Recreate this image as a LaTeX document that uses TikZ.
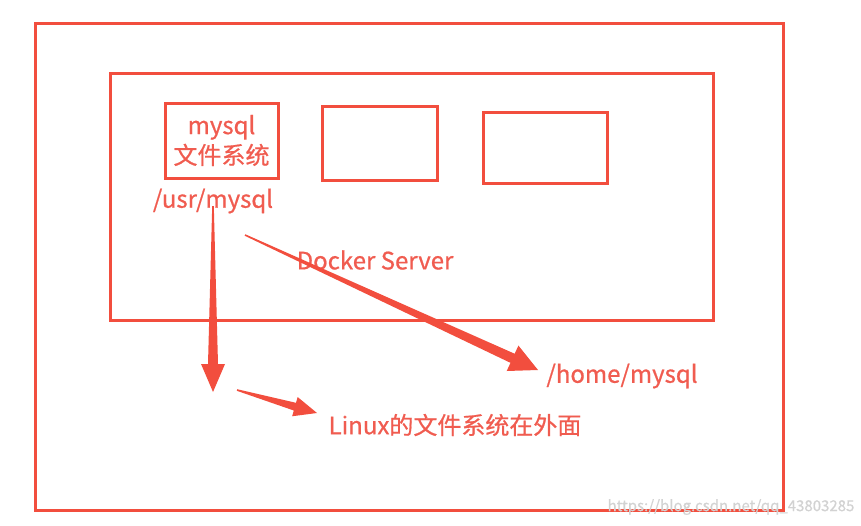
\documentclass[tikz,border=0pt]{standalone}
\usepackage{fontspec}
\setmainfont{Noto Sans CJK SC}[UprightFeatures={FakeBold=0.7}]
\usetikzlibrary{calc}
\definecolor{pen}{RGB}{242,78,62}
\definecolor{ink}{RGB}{240,92,80}

% tapered arrow: from, to, head length, head half width, shaft half width
\newcommand{\fatarrow}[5]{%
  \coordinate (hb) at ($(#2)!#3!(#1)$);
  \fill[pen] ($(#1)!0.8pt!90:(#2)$) -- ($(hb)!#5!90:(#2)$) -- ($(hb)!#4!90:(#2)$)
    -- (#2) -- ($(hb)!#4!-90:(#2)$) -- ($(hb)!#5!-90:(#2)$) -- ($(#1)!0.8pt!-90:(#2)$) -- cycle;
}

\begin{document}
\begin{tikzpicture}[x=1pt, y=-1pt, every node/.style={font=\fontsize{24}{30}\selectfont}]
\tikzset{
  frame/.style={draw=pen, line width=3pt},
  lab/.style={text=ink, inner sep=2pt},
  wmark/.style={text=gray!35, font=\fontsize{15}{16}\selectfont}
}
\useasboundingbox (0,0) rectangle (861,525);

% --- frames ---
\draw[frame] (35,23) rectangle (783,510);
\draw[frame] (110,73) rectangle (713,320);
\node[frame, minimum width=113pt, minimum height=75pt] (mysqlbox) at (221.5,140.5) {};
\node[frame, minimum width=115pt, minimum height=74pt] (boxb) at (379.5,143) {};
\node[frame, minimum width=124pt, minimum height=71pt] (boxc) at (545,147.5) {};

% --- labels ---
\node[lab, align=center] (mysqltext) at (mysqlbox) {mysql\\文件系统};
\node[lab] (usr) at (213,201) {/usr/mysql};
\node[lab] (server) at (375,260) {Docker Server};
\node[lab] (home) at (622,376) {/home/mysql};
\node[lab] (linux) at (455,425) {Linux的文件系统在外面};
\node[wmark] (url) at (731,507) {https://blog.csdn.net/qq\_43803285};

% --- arrows ---
\coordinate (usrfoot) at (213,206);
\coordinate (down) at (213,392);
\coordinate (slant) at (245,235);
\coordinate (hometip) at (538,370);
\coordinate (side) at (237,390);
\coordinate (linuxtip) at (317,413);
\fatarrow{usrfoot}{down}{28pt}{12pt}{5pt}
\fatarrow{slant}{hometip}{28pt}{14pt}{5pt}
\fatarrow{side}{linuxtip}{23pt}{10pt}{4pt}
\end{tikzpicture}
\end{document}
